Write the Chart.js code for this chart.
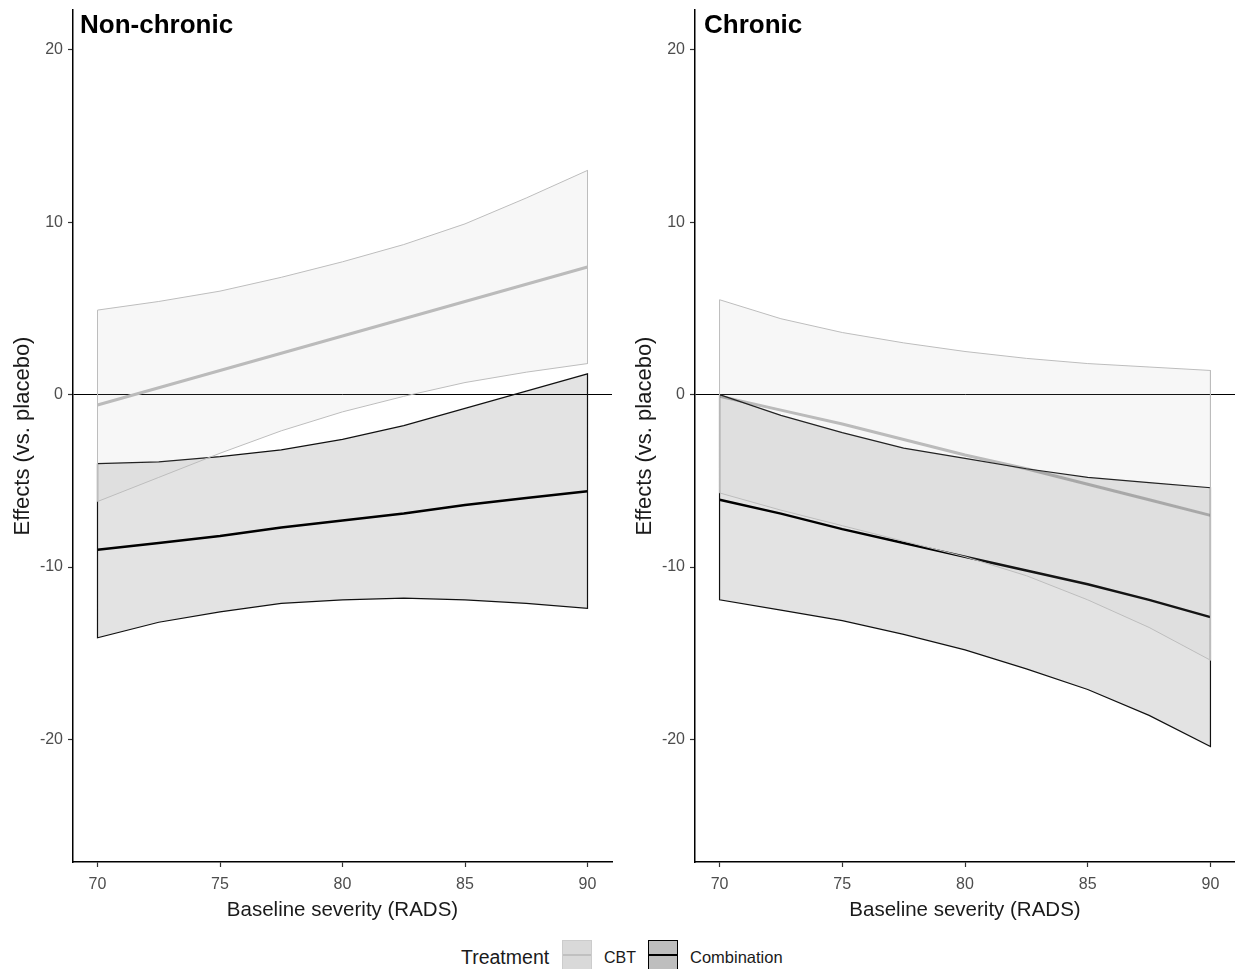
<!DOCTYPE html>
<html>
<head>
<meta charset="utf-8">
<script src="https://cdn.jsdelivr.net/npm/chart.js@4.4.1/dist/chart.umd.min.js"></script>
<style>
  body { margin: 0; background: #fff; font-family: "Liberation Sans", Arial, sans-serif; }
  #wrap { position: relative; width: 1235px; height: 969px; }
  canvas { position: absolute; top: 0; }
  #left { left: 0; }
  #right { left: 622px; }
  .lg { position: absolute; color: #1a1a1a; white-space: nowrap; line-height: 20px; top: 947px; }
  .key { position: absolute; top: 940px; width: 30px; height: 30px; box-sizing: border-box; }
  .key i { position: absolute; left: 0; right: 0; top: 50%; display: block; }
</style>
</head>
<body>
<div id="wrap">
  <canvas id="left" width="620" height="933"></canvas>
  <canvas id="right" width="613" height="933"></canvas>

  <span class="lg" style="left:461px; font-size:19.5px;">Treatment</span>
  <div class="key" style="left:562px; background:#d9d9d9; border:1px solid #cccccc;"><i style="height:2px; margin-top:-1px; background:#c0c0c0;"></i></div>
  <span class="lg" style="left:604px; font-size:16px; top:948px;">CBT</span>
  <div class="key" style="left:648px; background:#bebebe; border:1.5px solid #000;"><i style="height:2.5px; margin-top:-1.25px; background:#000;"></i></div>
  <span class="lg" style="left:690px; font-size:16.5px;">Combination</span>
</div>

<script>
// ___________ data ___________ //
const severity = [70, 72.5, 75, 77.5, 80, 82.5, 85, 87.5, 90];
const xTicks = [70, 75, 80, 85, 90];
const yTicks = [-20, -10, 0, 10, 20];

// Non-chronic
const ncCbtFit   = [-0.6, 0.4, 1.4, 2.4, 3.4, 4.4, 5.4, 6.4, 7.4];
const ncCbtUpper = [4.9, 5.4, 6.0, 6.8, 7.7, 8.7, 9.9, 11.4, 13.0];
const ncCbtLower = [-6.2, -4.8, -3.4, -2.1, -1.0, -0.1, 0.7, 1.3, 1.8];
const ncComboFit   = [-9.0, -8.6, -8.2, -7.7, -7.3, -6.9, -6.4, -6.0, -5.6];
const ncComboUpper = [-4.0, -3.9, -3.6, -3.2, -2.6, -1.8, -0.8, 0.2, 1.2];
const ncComboLower = [-14.1, -13.2, -12.6, -12.1, -11.9, -11.8, -11.9, -12.1, -12.4];

// Chronic
const chCbtFit   = [-0.1, -0.9, -1.7, -2.6, -3.5, -4.3, -5.2, -6.1, -7.0];
const chCbtUpper = [5.5, 4.4, 3.6, 3.0, 2.5, 2.1, 1.8, 1.6, 1.4];
const chCbtLower = [-5.7, -6.7, -7.6, -8.5, -9.4, -10.5, -11.9, -13.5, -15.4];
const chComboFit   = [-6.1, -6.9, -7.8, -8.6, -9.4, -10.2, -11.0, -11.9, -12.9];
const chComboUpper = [0.0, -1.2, -2.2, -3.1, -3.7, -4.3, -4.8, -5.1, -5.4];
const chComboLower = [-11.9, -12.5, -13.1, -13.9, -14.8, -15.9, -17.1, -18.6, -20.4];

// ___________ helpers ___________ //
const FONT = '"Liberation Sans", Arial, sans-serif';

function pts(xs, ys) {
  return xs.map((x, i) => ({ x: x, y: ys[i] }));
}

// closed outline: along the upper bound, then back along the lower bound
function ribbon(xs, upper, lower) {
  const p = pts(xs, upper).concat(pts(xs, lower).reverse());
  p.push({ x: xs[0], y: upper[0] });
  return p;
}

const panelTitle = {
  id: "panelTitle",
  afterDraw(chart, args, opts) {
    const c = chart.ctx;
    c.save();
    c.font = "bold 26px " + FONT;
    c.fillStyle = "#000";
    c.textBaseline = "alphabetic";
    c.fillText(opts.text, chart.chartArea.left + opts.dx, 33);
    c.restore();
  },
};

function makePanel(id, title, dx, d, padRight) {
  return new Chart(document.getElementById(id), {
    type: "line",
    data: {
      datasets: [
        {
          label: "CBT band",
          data: ribbon(severity, d.cbtUpper, d.cbtLower),
          borderColor: "#bdbdbd",
          borderWidth: 1,
          backgroundColor: "rgba(180,180,180,0.11)",
          fill: "shape",
        },
        {
          label: "Combination band",
          data: ribbon(severity, d.comboUpper, d.comboLower),
          borderColor: "#111",
          borderWidth: 1.2,
          backgroundColor: "rgba(0,0,0,0.11)",
          fill: "shape",
        },
        {
          label: "CBT",
          data: pts(severity, d.cbtFit),
          borderColor: "#bcbcbc",
          borderWidth: 3,
          fill: false,
        },
        {
          label: "Combination",
          data: pts(severity, d.comboFit),
          borderColor: "#000",
          borderWidth: 2.5,
          fill: false,
        },
      ],
    },
    options: {
      responsive: false,
      animation: false,
      devicePixelRatio: 1,
      elements: { point: { radius: 0 }, line: { tension: 0 } },
      layout: { padding: { top: 10, left: 10, right: padRight, bottom: 10 } },
      plugins: {
        legend: { display: false },
        tooltip: { enabled: false },
        panelTitle: { text: title, dx: dx },
      },
      scales: {
        x: {
          type: "linear",
          min: 69,
          max: 91,
          afterBuildTicks: (s) => { s.ticks = xTicks.map((v) => ({ value: v })); },
          afterFit: (s) => { s.height = 61; s.paddingLeft = 0; s.paddingRight = 0; },
          border: { color: "#000", width: 1.5 },
          grid: { drawOnChartArea: false, tickLength: 5, tickColor: "#333", tickWidth: 1.2 },
          ticks: { color: "#4d4d4d", font: { family: FONT, size: 16 }, padding: 8, maxRotation: 0 },
          title: {
            display: true,
            text: "Baseline severity (RADS)",
            color: "#1a1a1a",
            font: { family: FONT, size: 20.5 },
            padding: { top: 0, bottom: 0 },
          },
        },
        y: {
          min: -27.1,
          max: 22.3,
          afterBuildTicks: (s) => { s.ticks = yTicks.map((v) => ({ value: v })); },
          afterFit: (s) => { s.width = 63; s.paddingTop = 0; s.paddingBottom = 0; },
          border: { color: "#000", width: 1.5 },
          grid: {
            drawOnChartArea: true,
            color: (ctx) => (ctx.tick && ctx.tick.value === 0 ? "#000" : "rgba(0,0,0,0)"),
            lineWidth: 1,
            tickLength: 5,
            tickColor: "#333",
            tickWidth: 1.2,
          },
          ticks: { color: "#4d4d4d", font: { family: FONT, size: 16 }, padding: 5 },
          title: {
            display: true,
            text: "Effects (vs. placebo)",
            color: "#1a1a1a",
            font: { family: FONT, size: 22 },
            padding: { top: 0, bottom: 0 },
          },
        },
      },
    },
    plugins: [panelTitle],
  });
}

makePanel("left", "Non-chronic", 7, {
  cbtFit: ncCbtFit, cbtUpper: ncCbtUpper, cbtLower: ncCbtLower,
  comboFit: ncComboFit, comboUpper: ncComboUpper, comboLower: ncComboLower,
}, 8);

makePanel("right", "Chronic", 9, {
  cbtFit: chCbtFit, cbtUpper: chCbtUpper, cbtLower: chCbtLower,
  comboFit: chComboFit, comboUpper: chComboUpper, comboLower: chComboLower,
}, 0);
</script>
</body>
</html>
